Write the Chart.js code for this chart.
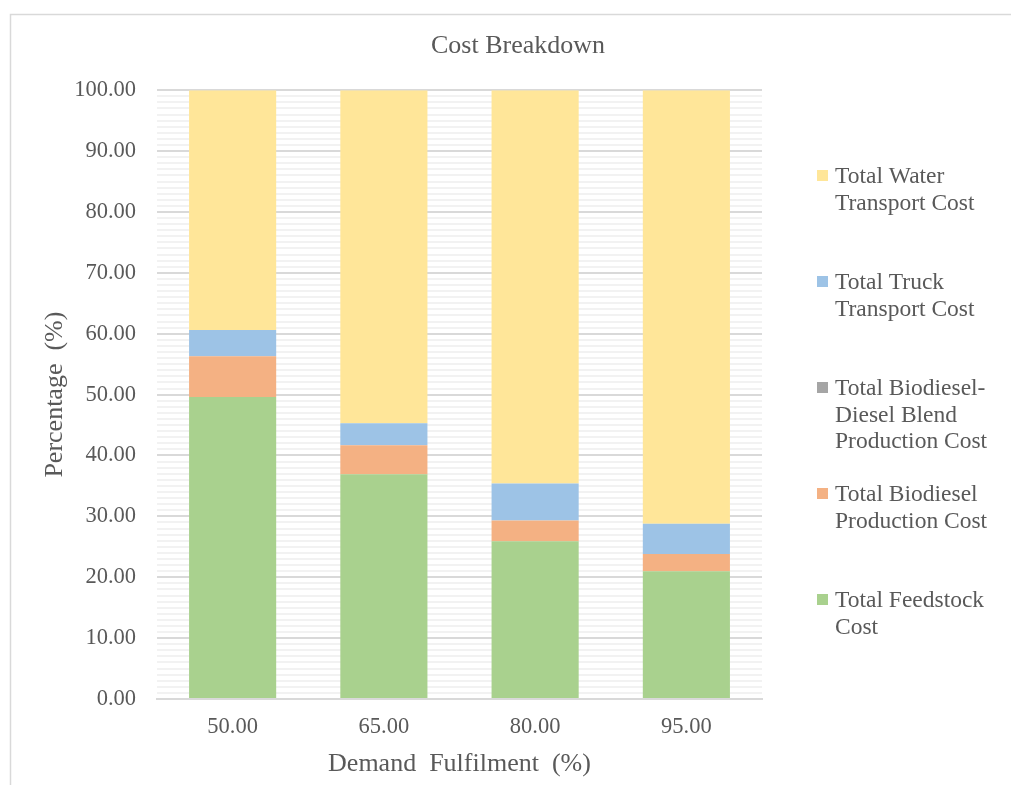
<!DOCTYPE html>
<html>
<head>
<meta charset="utf-8">
<title>Cost Breakdown</title>
<script src="https://cdn.jsdelivr.net/npm/chart.js@4.4.1/dist/chart.umd.min.js"></script>
<style>
  html, body { margin: 0; padding: 0; background: #ffffff; }
  canvas { display: block; }
</style>
</head>
<body>
<canvas id="chart" width="1011" height="785"></canvas>
<script>
// Demand fulfilment levels (%) on the x axis
const categories = ['50.00', '65.00', '80.00', '95.00'];

// Share of total cost (%) for each component, stacked bottom to top
const feedstockCost = [49.6, 36.9, 25.9, 21.0];
const biodieselProductionCost = [6.7, 4.8, 3.4, 2.8];
const blendProductionCost = [0, 0, 0, 0];
const truckTransportCost = [4.3, 3.6, 6.1, 5.0];
const waterTransportCost = [39.4, 54.7, 64.6, 71.2];

// Legend text, one entry per series, split into lines
const feedstockLabel = ['Total Feedstock', 'Cost'];
const biodieselLabel = ['Total Biodiesel', 'Production Cost'];
const blendLabel = ['Total Biodiesel-', 'Diesel Blend', 'Production Cost'];
const truckLabel = ['Total Truck', 'Transport Cost'];
const waterLabel = ['Total Water', 'Transport Cost'];

const SERIF = '"Liberation Serif", "Times New Roman", serif';
const TEXT = '#595959';

// Outer frame of the chart
const framePlugin = {
  id: 'frame',
  beforeDraw(chart) {
    const ctx = chart.ctx;
    ctx.save();
    ctx.strokeStyle = '#d9d9d9';
    ctx.lineWidth = 1.5;
    ctx.strokeRect(10.5, 14.5, chart.width + 20, chart.height + 20);
    ctx.restore();
  }
};

// Legend placed in its own layout box on the right, top series first
const sideLegend = {
  id: 'sideLegend',
  beforeInit(chart) {
    const box = {
      position: 'right',
      weight: 100,
      fullSize: false,
      options: { stack: undefined, stackWeight: 1 },
      left: 0, top: 0, right: 0, bottom: 0, width: 0, height: 0,
      isHorizontal() { return false; },
      update(maxWidth, maxHeight) {
        this.width = 249;
        this.height = maxHeight;
      },
      draw() {
        const ctx = chart.ctx;
        const items = chart.data.datasets.slice().reverse();
        const x0 = this.left + 55;
        ctx.save();
        ctx.font = '23.5px ' + SERIF;
        ctx.textBaseline = 'alphabetic';
        ctx.textAlign = 'left';
        items.forEach((ds, i) => {
          const base = 183 + i * 106;
          ctx.fillStyle = ds.backgroundColor;
          ctx.fillRect(x0, base - 13, 11, 11);
          ctx.fillStyle = TEXT;
          ds.label.forEach((line, j) => {
            ctx.fillText(line, x0 + 18, base + j * 26.7);
          });
        });
        ctx.restore();
      }
    };
    Chart.layouts.addBox(chart, box);
  }
};

const datasets = [
  { label: feedstockLabel, data: feedstockCost, backgroundColor: '#a9d18e' },
  { label: biodieselLabel, data: biodieselProductionCost, backgroundColor: '#f4b183' },
  { label: blendLabel, data: blendProductionCost, backgroundColor: '#a5a5a5' },
  { label: truckLabel, data: truckTransportCost, backgroundColor: '#9dc3e6' },
  { label: waterLabel, data: waterTransportCost, backgroundColor: '#ffe699' }
].map(d => Object.assign(d, {
  categoryPercentage: 1,
  barPercentage: 0.576,
  borderWidth: 0
}));

new Chart(document.getElementById('chart'), {
  type: 'bar',
  data: { labels: categories, datasets },
  options: {
    responsive: false,
    animation: false,
    devicePixelRatio: 1,
    layout: { padding: { left: 25, top: 0, right: 0, bottom: 0 } },
    plugins: {
      legend: { display: false },
      tooltip: { enabled: false },
      title: {
        display: true,
        text: 'Cost Breakdown',
        color: TEXT,
        font: { family: SERIF, size: 26, weight: 'normal' },
        padding: { top: 31, bottom: 28 }
      }
    },
    scales: {
      x: {
        stacked: true,
        grid: { display: false },
        border: { display: true, color: '#d9d9d9', width: 2 },
        ticks: {
          color: TEXT,
          font: { family: SERIF, size: 22.5 },
          padding: 7
        },
        title: {
          display: true,
          text: 'Demand  Fulfilment  (%)',
          color: TEXT,
          font: { family: SERIF, size: 26 },
          padding: { top: 0, bottom: 5 }
        },
        afterFit(scale) { scale.height = 86; }
      },
      y: {
        stacked: true,
        min: 0,
        max: 100,
        border: { display: false },
        grid: {
          drawTicks: false,
          color: ctx => (ctx.tick && ctx.tick.value % 10 === 0) ? '#d9d9d9' : '#f2f2f2',
          lineWidth: 2
        },
        ticks: {
          stepSize: 1,
          autoSkip: false,
          color: TEXT,
          font: { family: SERIF, size: 22.5 },
          padding: 21,
          callback: v => (v % 10 === 0 ? Number(v).toFixed(2) : '')
        },
        title: {
          display: true,
          text: 'Percentage  (%)',
          color: TEXT,
          font: { family: SERIF, size: 26 },
          padding: { top: 15, bottom: 0 }
        },
        afterFit(scale) { scale.width = 132; }
      }
    }
  },
  plugins: [framePlugin, sideLegend]
});
</script>
</body>
</html>
